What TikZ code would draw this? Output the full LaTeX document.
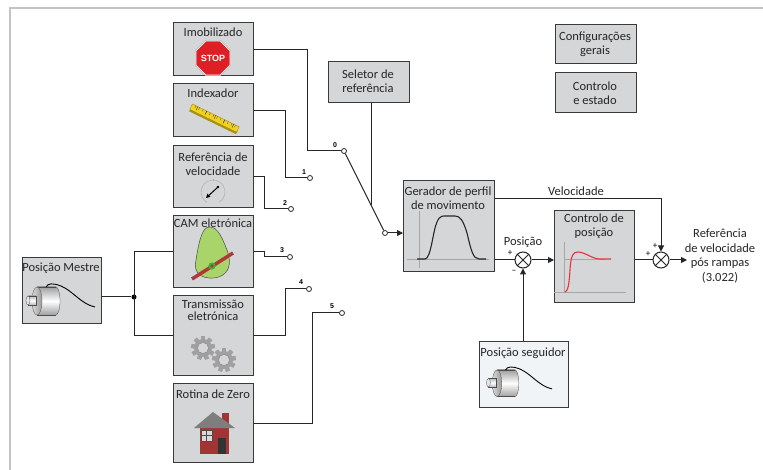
\documentclass[tikz,border=0pt]{standalone}
\usepackage{fontspec}
\setmainfont{Carlito}
\newfontfamily\digitfont{Liberation Sans}
\usetikzlibrary{arrows.meta,shapes.geometric,calc}

\definecolor{blkfill}{HTML}{D4D6D8}
\definecolor{lightfill}{HTML}{F1F4F6}
\definecolor{blkline}{HTML}{3A3A3A}
\definecolor{framecol}{HTML}{C4C4C4}
\definecolor{stopred}{HTML}{DD1F26}
\definecolor{rulery}{HTML}{F2D21E}
\definecolor{camgreen}{HTML}{A8D46A}
\definecolor{barred}{HTML}{B03838}
\definecolor{housered}{HTML}{A23434}
\definecolor{roofgray}{HTML}{7E7E7E}
\definecolor{gearcol}{HTML}{A0A0A0}
\definecolor{plotred}{HTML}{E8323C}

\tikzset{
  blk/.style={draw=blkline, fill=blkfill, line width=1.2pt, inner sep=0pt, anchor=north west},
  title/.style={font=\fontsize{12.5}{14}\selectfont, align=center, inner sep=0pt, text=black!85},
  wire/.style={draw=black!85, line width=1pt},
  arr/.style={wire, -{Triangle[length=6pt,width=6pt]}},
  contact/.style={circle, draw=black!85, fill=white, line width=0.8pt, minimum size=5pt, inner sep=0pt},
  jdot/.style={circle, fill=black, minimum size=5pt, inner sep=0pt},
  sumj/.style={circle, draw=black!85, fill=white, line width=1pt, minimum size=16pt, inner sep=0pt},
  num/.style={font=\digitfont\bfseries\fontsize{7}{7}\selectfont, inner sep=0pt},
  sign/.style={font=\fontsize{9}{9}\selectfont, inner sep=0pt},
  axis/.style={draw=gray!70, line width=0.6pt},
}

% small rotary encoder with its output trace
\newcommand{\encoderpic}[3]{% #1 x of drum front face, #2 y of drum top, #3 scale
  \begin{scope}[shift={(#1,#2)}, scale=#3]
    \shade[top color=gray!75, bottom color=gray!75, middle color=white, draw=gray!60!black, line width=0.3pt]
      (19,15) ellipse[x radius=4, y radius=14];
    \shade[top color=gray!75, bottom color=gray!75, middle color=white]
      (0,1) rectangle (19,29);
    \draw[gray!60!black, line width=0.3pt] (0,1) -- (19,1) (0,29) -- (19,29);
    \shade[left color=gray!30, right color=gray!80, draw=gray!60!black, line width=0.3pt]
      (0,15) ellipse[x radius=5, y radius=14];
    \shade[top color=gray!55, bottom color=gray!55, middle color=white, draw=gray!60!black, line width=0.3pt]
      (-9,10) rectangle (-1,19);
    \draw[fill=gray!20, draw=gray!60!black, line width=0.3pt] (-9,14.5) ellipse[x radius=2, y radius=4.5];
    \draw[black, line width=0.9pt] (9,1) .. controls (11,-3) and (16,-3) .. (24,0) .. controls (36,5) and (44,18) .. (58,21);
  \end{scope}}

% gear outline centred at #1,#2 with radius #3
\newcommand{\gearpic}[3]{%
  \foreach \ang in {0,40,...,320}
    \fill[gearcol, rotate around={\ang:(#1,#2)}] ({#1-2.2},{#2-#3-3}) rectangle ({#1+2.2},{#2-#3+2});
  \fill[gearcol] (#1,#2) circle (#3);
  \fill[blkfill] (#1,#2) circle ({#3*0.62});
  \draw[gearcol!80!black, line width=0.4pt] (#1,#2) circle ({#3*0.62});
}

\begin{document}
\begin{tikzpicture}[x=1pt,y=-1pt]
\useasboundingbox (0,0) rectangle (763,470);
\fill[white] (0,0) rectangle (763,470);

% outer frame (top and left edges)
\draw[framecol, line width=1.5pt] (10,472) -- (10,8) -- (765,8);

% ---------- source blocks ----------
\node[blk, minimum width=80pt, minimum height=53pt] (imob) at (173,22) {};
\node[blk, minimum width=80pt, minimum height=53pt] (idx)  at (173,83) {};
\node[blk, minimum width=80pt, minimum height=62pt] (refv) at (173,145) {};
\node[blk, minimum width=80pt, minimum height=72pt] (cam)  at (173,215) {};
\node[blk, minimum width=80pt, minimum height=80pt] (trans) at (173,295) {};
\node[blk, minimum width=80pt, minimum height=79pt] (rot)  at (173,383) {};
\node[blk, minimum width=79pt, minimum height=66pt] (pm)   at (22,257) {};

\node[title] (imob-t) at (213,32) {Imobilizado};
\node[title] (idx-t)  at (213,93) {Indexador};
\node[title] (refv-t) at (213,164) {Referência de\\velocidade};
\node[title] (cam-t)  at (213,223) {CAM eletrónica};
\node[title, font=\fontsize{12.5}{11.5}\selectfont] (trans-t) at (213,310) {Transmissão\\eletrónica};
\node[title] (rot-t)  at (213,394) {Rotina de Zero};
\node[title] (pm-t)   at (61,268) {Posição Mestre};

% ---------- other blocks ----------
\node[blk, minimum width=81pt, minimum height=41pt] (sel)  at (328,61) {};
\node[blk, minimum width=81pt, minimum height=39pt] (conf) at (555,24) {};
\node[blk, minimum width=81pt, minimum height=40pt] (ctrl) at (555,72) {};
\node[blk, minimum width=91pt, minimum height=91pt] (ger)  at (403,180) {};
\node[blk, minimum width=80pt, minimum height=92pt] (cpos) at (554,210) {};
\node[blk, fill=lightfill, minimum width=89pt, minimum height=66pt] (seg) at (479,341) {};

\node[title] (sel-t)  at (368,81) {Seletor de\\referência};
\node[title] (conf-t) at (595,44) {Configurações\\gerais};
\node[title] (ctrl-t) at (595,93) {Controlo\\e estado};
\node[title] (ger-t)  at (448,198) {Gerador de perfil\\de movimento};
\node[title] (cpos-t) at (594,226) {Controlo de\\posição};
\node[title] (seg-t)  at (523,353) {Posição seguidor};

% ---------- icons ----------
% stop sign
\node[regular polygon, regular polygon sides=8, minimum size=33pt, fill=stopred, draw=white, line width=1pt,
      inner sep=0pt, text=white, font=\digitfont\bfseries\fontsize{9}{9}\selectfont] (stop) at (213,58) {STOP};
\draw[gray!70, line width=0.3pt] (stop.corner 1) -- (stop.corner 2) -- (stop.corner 3) -- (stop.corner 4)
  -- (stop.corner 5) -- (stop.corner 6) -- (stop.corner 7) -- (stop.corner 8) -- cycle;

% ruler
\begin{scope}[shift={(214,119)}, rotate=-26]
  \fill[rulery!70!black] (-26,4) -- (26,4) -- (27,1) -- (-25,1) -- cycle;
  \fill[rulery, draw=rulery!60!black, line width=0.3pt] (-26,-4) rectangle (26,2);
  \foreach \t in {-22,-18,...,22} \draw[black!70, line width=0.3pt] (\t,-4) -- (\t,-1.5);
  \foreach \t in {-20,-10,0,10,20} \draw[black!80, line width=0.4pt] (\t,-4) -- (\t,0);
\end{scope}

% speed dial
\draw[gray!60, line width=0.6pt] (213,192) ++(60:12) arc[start angle=60, end angle=-240, radius=12];
\draw[gray!60, line width=0.5pt] (213,179) -- (213,181);
\fill[black] (218,187) circle (1.3);
\draw[black, line width=1pt, -{Triangle[length=4pt,width=4pt]}] (218,187) -- (206,198);

% cam disc
\fill[camgreen, draw=black!70, line width=0.5pt] (209,227) .. controls (218,226) and (223,240) .. (227,250)
  .. controls (232,263) and (230,276) .. (214,278) .. controls (200,279) and (193,272) .. (196,260)
  .. controls (198,248) and (201,227) .. (209,227);
\draw[barred, line width=3.5pt] (192,279) -- (233,253);
\fill[green!65!black!80] (212,266) circle (3.6);
\fill[barred] (212,266) circle (1.8);

% gears
\gearpic{203}{348}{9}
\gearpic{224}{360}{9}

% house
\fill[housered] (222,413) rectangle (229,424);
\fill[housered] (200,427) rectangle (229,454);
\fill[roofgray] (194,428) -- (213,412) -- (235,428) -- cycle;
\fill[white!85!black] (201,430) rectangle (212,441);
\draw[black!70, line width=0.8pt] (201,430) rectangle (212,441) (206.5,430) -- (206.5,441) (201,435.5) -- (212,435.5);
\fill[black!80] (218,438) rectangle (226,454);

% encoders
\encoderpic{37}{286}{1}
\encoderpic{497}{369}{0.95}

% profile generator trace
\draw[axis] (419,211) -- (419,268);
\draw[axis] (407,259) -- (489,259);
\draw[black!85, line width=1.1pt] (417,259) -- (425,259) .. controls (431,259) and (433,230) .. (437,222)
  .. controls (440,215) and (443,216) .. (447,216) -- (455,216) .. controls (460,216) and (463,220) .. (467,233)
  .. controls (471,250) and (473,259) .. (479,259) -- (486,259);

% position loop step response
\draw[axis] (564,242) -- (564,293);
\draw[axis] (554,292) -- (626,292);
\draw[axis] (564,259) -- (605,259);
\draw[plotred, line width=1.1pt] (565,292) .. controls (568,291) and (569,285) .. (570,270)
  .. controls (571,255) and (573,252) .. (578,252) .. controls (585,252) and (592,259) .. (600,259) -- (611,259);

% ---------- selector ----------
\node[contact] (c0) at (344,151) {};
\node[contact] (c1) at (310,178) {};
\node[contact] (c2) at (291,209) {};
\node[contact] (c3) at (290,257) {};
\node[contact] (c4) at (309,289) {};
\node[contact] (c5) at (342,313) {};
\node[contact] (cout) at (385,233) {};

\node[num] (n0) at (335,145) {0};
\node[num] (n1) at (304,172) {1};
\node[num] (n2) at (285,203) {2};
\node[num] (n3) at (282,250) {3};
\node[num] (n4) at (301,282) {4};
\node[num] (n5) at (332,306) {5};

\draw[wire] (imob.east) -- ++(53,0) |- (c0.west);
\draw[wire] (idx.east) -- ++(31,0) |- (c1.west);
\draw[wire] (refv.east) -- ++(10,0) |- (c2.west);
\draw[wire] (cam.east) -- ++(10,0) |- (c3.west);
\draw[wire] (trans.east) -- ++(31,0) |- (c4.west);
\draw[wire] (rot.east) -- ++(58,0) |- (c5.west);

\draw[wire] (c0) -- (cout);
\coordinate (arm) at ($(c0)!0.66!(cout)$);
\draw[wire] (sel.south -| arm) -- (arm);
\draw[arr] (cout) -- (ger.west |- cout);

% master position fan-out
\node[jdot] (jn) at (134,297) {};
\draw[wire] (pm.east |- jn) -- (jn);
\draw[wire] (jn.center) |- (cam.west);
\draw[wire] (jn.center) |- (trans.west);

% ---------- position loop ----------
\node[sumj] (s1) at (523,260) {};
\node[sumj] (s2) at (661,260) {};
\draw[black!85, line width=0.9pt] (s1.north west) -- (s1.south east) (s1.north east) -- (s1.south west);
\draw[black!85, line width=0.9pt] (s2.north west) -- (s2.south east) (s2.north east) -- (s2.south west);

\draw[wire] (ger.east |- s1) -- (s1);
\draw[arr] (s1) -- (cpos.west |- s1);
\draw[wire] (cpos.east |- s2) -- (s2);
\coordinate (vout) at (ger.east |- 0,199);
\draw[arr] (vout) -| (s2.north);
\draw[arr] (seg.north -| s1) -- (s1.south);
\coordinate (yout) at (687,260);
\draw[arr] (s2) -- (yout);

\node[sign] (p1) at (510,253) {+};
\node[sign] (m1) at (514,272) {\textminus};
\node[sign] (p2) at (648,254) {+};
\node[sign] (p3) at (655,246) {+};

\node[title] (vel-t) at (576,191) {Velocidade};
\node[title] (pos-t) at (523,242) {Posição};
\node[title, font=\fontsize{12.5}{14.5}\selectfont] (out-t) at (720,256) {Referência\\de velocidade\\pós rampas\\(3.022)};

\end{tikzpicture}
\end{document}
